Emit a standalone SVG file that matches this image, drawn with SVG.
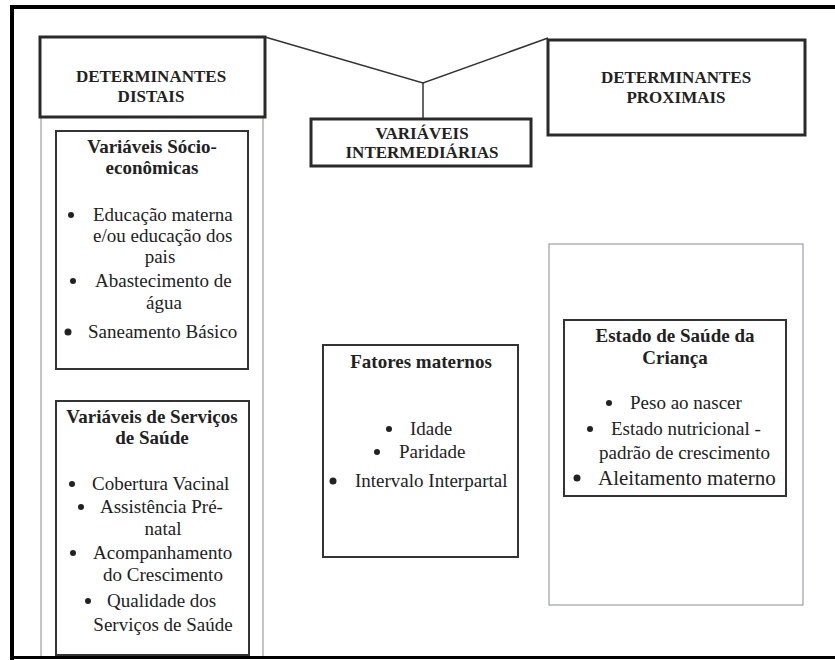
<svg xmlns="http://www.w3.org/2000/svg" width="835" height="660" viewBox="0 0 835 660">
<style>
text{font-family:"Liberation Serif","Times New Roman",serif;fill:#222}
.h{font-weight:bold;font-size:17px;text-anchor:middle}
.t{font-weight:bold;font-size:19px;text-anchor:middle}
.b{font-size:19px}
.c{font-size:19px;text-anchor:middle}
.big{font-size:21px}
.hb{fill:#fff;stroke:#2a2a2a;stroke-width:3}
.ib{fill:#fff;stroke:#333;stroke-width:2}
.thin{fill:none;stroke:#8a8a9a;stroke-width:1}
.dot{fill:#222}
</style>
<rect width="835" height="660" fill="#fff"/>
<g id="frame">
<rect x="10" y="5" width="825" height="4" fill="#000"/>
<rect x="10" y="5" width="4" height="655" fill="#000"/>
<rect x="10" y="656" width="825" height="3" fill="#000"/>
</g>
<g id="connectors" fill="none" stroke="#333" stroke-width="1.5">
<polyline points="265,37 423,83 548,38"/>
<line x1="423" y1="83" x2="423" y2="119"/>
</g>
<g id="distal-column">
<line class="thin" x1="41" y1="117" x2="41" y2="656"/>
<line class="thin" x1="263" y1="117" x2="263" y2="656"/>
</g>
<g id="determinantes-distais">
<rect class="hb" x="40" y="37" width="225" height="80"/>
<text class="h" x="151" y="82">DETERMINANTES</text>
<text class="h" x="151" y="102">DISTAIS</text>
</g>
<g id="determinantes-proximais">
<rect class="hb" x="548" y="40" width="257" height="95"/>
<text class="h" x="676" y="83">DETERMINANTES</text>
<text class="h" x="676" y="103">PROXIMAIS</text>
</g>
<g id="variaveis-intermediarias">
<rect class="hb" x="311" y="119" width="220" height="47"/>
<text class="h" x="422" y="139">VARIÁVEIS</text>
<text class="h" x="422" y="158">INTERMEDIÁRIAS</text>
</g>
<g id="socioeconomicas">
<rect class="ib" x="56" y="131" width="192" height="238"/>
<text class="t" x="152" y="153">Variáveis Sócio-</text>
<text class="t" x="152" y="174">econômicas</text>
<circle class="dot" cx="71" cy="215" r="3"/>
<text class="b" x="93" y="221">Educação materna</text>
<text class="b" x="93" y="242">e/ou educação dos</text>
<text class="c" x="160" y="263">pais</text>
<circle class="dot" cx="73" cy="281" r="3"/>
<text class="b" x="95" y="287">Abastecimento de</text>
<text class="c" x="164" y="309">água</text>
<circle class="dot" cx="68" cy="332" r="3.5"/>
<text class="b" x="88" y="338">Saneamento Básico</text>
</g>
<g id="servicos-saude">
<rect class="ib" x="56" y="401" width="193" height="254"/>
<text class="t" x="152" y="423">Variáveis de Serviços</text>
<text class="t" x="152" y="444">de Saúde</text>
<circle class="dot" cx="72" cy="484" r="3"/>
<text class="b" x="92" y="490">Cobertura Vacinal</text>
<circle class="dot" cx="81" cy="507" r="3"/>
<text class="b" x="100" y="513">Assistência Pré-</text>
<text class="c" x="163" y="535">natal</text>
<circle class="dot" cx="73" cy="553" r="3"/>
<text class="b" x="93" y="559">Acompanhamento</text>
<text class="c" x="163" y="581">do Crescimento</text>
<circle class="dot" cx="88" cy="601" r="3"/>
<text class="b" x="107" y="607">Qualidade dos</text>
<text class="c" x="163" y="631">Serviços de Saúde</text>
</g>
<g id="fatores-maternos">
<rect class="ib" x="323" y="345" width="195" height="212"/>
<text class="t" x="421" y="368">Fatores maternos</text>
<circle class="dot" cx="389" cy="429" r="3"/>
<text class="b" x="410" y="435">Idade</text>
<circle class="dot" cx="377" cy="452" r="3"/>
<text class="b" x="399" y="458">Paridade</text>
<circle class="dot" cx="333" cy="481" r="3.5"/>
<text class="b" x="355" y="487">Intervalo Interpartal</text>
</g>
<g id="proximal-column">
<rect class="thin" x="549" y="244" width="254" height="361"/>
</g>
<g id="estado-saude-crianca">
<rect class="ib" x="564" y="320" width="222" height="176"/>
<text class="t" x="675" y="342">Estado de Saúde da</text>
<text class="t" x="675" y="364">Criança</text>
<circle class="dot" cx="609" cy="403" r="3"/>
<text class="b" x="630" y="409">Peso ao nascer</text>
<circle class="dot" cx="590" cy="429" r="3"/>
<text class="b" x="611" y="435">Estado nutricional -</text>
<text class="b" x="599" y="459">padrão de crescimento</text>
<circle class="dot" cx="577" cy="478" r="3.5"/>
<text class="b big" x="598" y="485">Aleitamento materno</text>
</g>
</svg>
